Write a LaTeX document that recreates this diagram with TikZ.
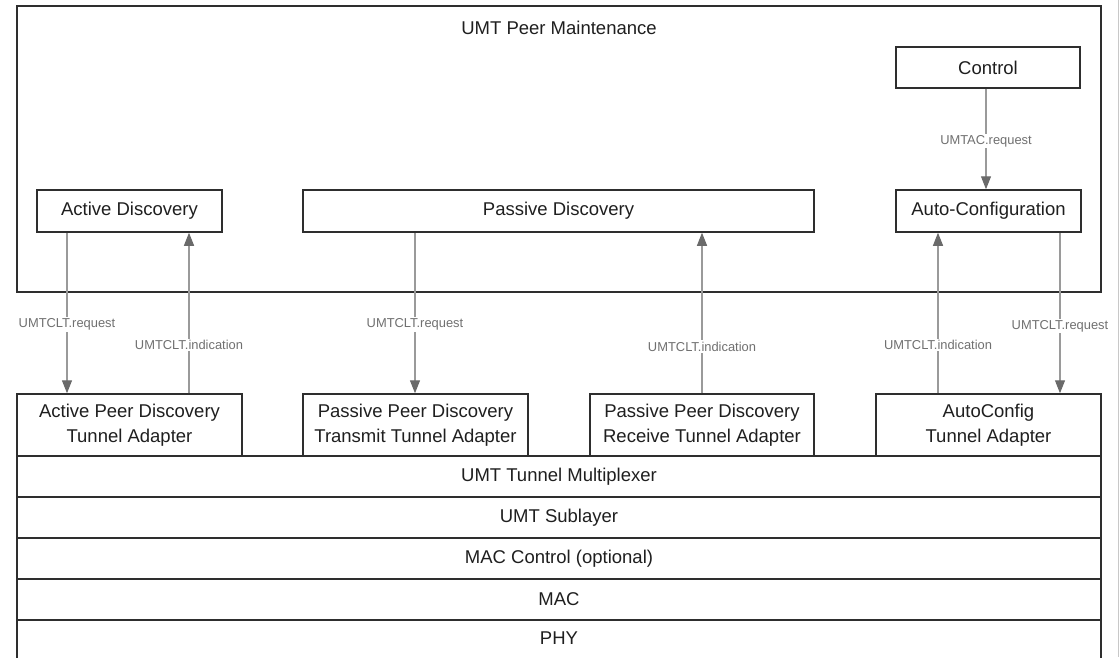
\documentclass[tikz,border=0pt]{standalone}
\usepackage{fontspec}
\setmainfont{Liberation Sans}
\usetikzlibrary{arrows.meta}
\definecolor{boxline}{HTML}{2E2E2E}
\definecolor{flowline}{HTML}{9A9A9A}
\definecolor{flowhead}{HTML}{6A6A6A}
\definecolor{flowtext}{HTML}{707070}
\definecolor{edgegray}{HTML}{C8C8C8}
\tikzset{
  blk/.style={draw=boxline, line width=1.5pt, fill=white, inner sep=0pt, align=center,
    text=black!88, font=\fontsize{18.5}{25}\selectfont},
  flow/.style={draw=flowline, line width=1.1pt,
    -{Triangle[length=13pt,width=10pt,color=flowhead]}},
  lbl/.style={fill=white, text=flowtext, inner sep=1.5pt, font=\fontsize{12.9}{14}\selectfont}
}
\begin{document}
\begin{tikzpicture}[x=1pt,y=-1pt]
\useasboundingbox (0,0) rectangle (1120,657);
\fill[white] (0,0) rectangle (1120,657);
\draw[edgegray, line width=1pt] (1118,0) -- (1118,657);

% outer box
\node[blk, minimum width=1084pt, minimum height=286pt] (outer) at (559,149) {};
\node[text=black!88, font=\fontsize{18.5}{25}\selectfont] (title) at (559,28) {UMT Peer Maintenance};

% upper blocks
\node[blk, minimum width=184pt, minimum height=41pt] (ctrl) at (988,67.5) {Control};
\node[blk, minimum width=185pt, minimum height=42pt] (auto) at (988.5,211) {Auto-Configuration};
\node[blk, minimum width=185pt, minimum height=42pt] (active) at (129.5,211) {Active Discovery};
\node[blk, minimum width=511pt, minimum height=42pt] (passive) at (558.5,211) {Passive Discovery};

% layers
\node[blk, minimum width=1084pt, minimum height=41pt] (phy) at (559,640.5) {};
\node[font=\fontsize{18.5}{25}\selectfont, text=black!88] at (559,638) {PHY};
\node[blk, minimum width=1084pt, minimum height=41pt] (mac) at (559,599.5) {MAC};
\node[blk, minimum width=1084pt, minimum height=41pt] (macctl) at (559,558.5) {MAC Control (optional)};
\node[blk, minimum width=1084pt, minimum height=41pt] (sub) at (559,517.5) {UMT Sublayer};
\node[blk, minimum width=1084pt, minimum height=41pt] (mux) at (559,476.5) {UMT Tunnel Multiplexer};

% adapters
\node[blk, minimum width=225pt, minimum height=62pt] (apd) at (129.5,425) {Active Peer Discovery\\Tunnel Adapter};
\node[blk, minimum width=225pt, minimum height=62pt] (ppt) at (415.5,425) {Passive Peer Discovery\\Transmit Tunnel Adapter};
\node[blk, minimum width=224pt, minimum height=62pt] (ppr) at (702,425) {Passive Peer Discovery\\Receive Tunnel Adapter};
\node[blk, minimum width=225pt, minimum height=62pt] (aca) at (988.5,425) {AutoConfig\\Tunnel Adapter};

% connectors
\draw[flow] (986,0 |- ctrl.south) -- node[lbl, pos=0.52] {UMTAC.request} (986,0 |- auto.north);
\draw[flow] (67,0 |- active.south) -- node[lbl, pos=0.57] {UMTCLT.request} (67,0 |- apd.north);
\draw[flow] (189,0 |- apd.north) -- node[lbl, pos=0.30] {UMTCLT.indication} (189,0 |- active.south);
\draw[flow] (415,0 |- passive.south) -- node[lbl, pos=0.57] {UMTCLT.request} (415,0 |- ppt.north);
\draw[flow] (702,0 |- ppr.north) -- node[lbl, pos=0.29] {UMTCLT.indication} (702,0 |- passive.south);
\draw[flow] (938,0 |- aca.north) -- node[lbl, pos=0.30] {UMTCLT.indication} (938,0 |- auto.south);
\draw[flow] (1060,0 |- auto.south) -- node[lbl, pos=0.58] {UMTCLT.request} (1060,0 |- aca.north);
\end{tikzpicture}
\end{document}
